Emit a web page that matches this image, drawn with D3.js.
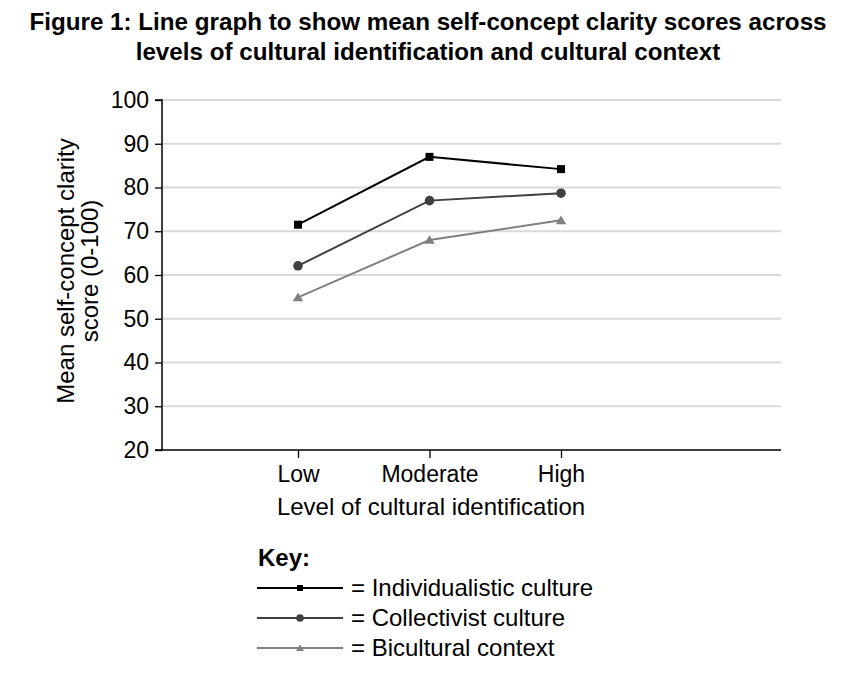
<!DOCTYPE html>
<html><head><meta charset="utf-8">
<script src="https://cdn.jsdelivr.net/npm/d3@7"></script>
<style>body{margin:0;background:#fff;} text{font-family:"Liberation Sans",Arial,sans-serif;}</style>
</head><body><svg id="c" width="854" height="674"></svg>
<script>
const categories = ["Low", "Moderate", "High"];
const individualistic = [71.5, 87.0, 84.2];
const collectivist = [62.1, 77.0, 78.7];
const bicultural = [54.9, 68.0, 72.5];
const yTicks = [20, 30, 40, 50, 60, 70, 80, 90, 100];
const seriesNames = ["Individualistic culture", "Collectivist culture", "Bicultural context"];

const series = [
  {name: seriesNames[0], values: individualistic, color: "#000000", marker: "square"},
  {name: seriesNames[1], values: collectivist, color: "#404040", marker: "circle"},
  {name: seriesNames[2], values: bicultural, color: "#808080", marker: "triangle"}
];

const FS = 23, LFS = 24;
const svg = d3.select("#c");
const m = {left: 162, top: 100, right: 781, bottom: 450};
const W = m.right - m.left, H = m.bottom - m.top;
const g = svg.append("g").attr("transform", `translate(${m.left},${m.top})`);

const x = d3.scalePoint().domain(categories).range([136, 399]);
const y = d3.scaleLinear().domain([20, 100]).range([H, 0]);

// title
const title = svg.append("text").attr("text-anchor", "middle")
  .attr("font-weight", "bold").attr("font-size", 24.2).attr("fill", "#000");
title.append("tspan").attr("x", 428).attr("y", 30).text("Figure 1: Line graph to show mean self-concept clarity scores across");
title.append("tspan").attr("x", 428).attr("y", 60).text("levels of cultural identification and cultural context");

// gridlines
g.append("g").selectAll("line").data(yTicks.filter(d => d > 20)).join("line")
  .attr("x1", 0).attr("x2", W).attr("y1", d => y(d)).attr("y2", d => y(d))
  .attr("stroke", "#d9d9d9").attr("stroke-width", 2);

// y axis
const ya = g.append("g").call(d3.axisLeft(y).tickValues(yTicks).tickSize(7).tickPadding(6));
ya.select(".domain").attr("stroke", "#000").attr("stroke-width", 1.5).attr("d", `M-7,${H}H0V0H-7`);
ya.selectAll(".tick line").attr("stroke", "#000").attr("stroke-width", 1.3);
ya.selectAll(".tick text").attr("font-size", FS).attr("fill", "#000")
  .attr("font-family", "Liberation Sans, Arial, sans-serif");

// x axis
const xa = g.append("g").attr("transform", `translate(0,${H})`)
  .call(d3.axisBottom(x).tickSize(8).tickPadding(8));
xa.select(".domain").attr("stroke", "#000").attr("stroke-width", 1.5).attr("d", `M0,0H${W}`);
xa.selectAll(".tick line").attr("stroke", "#000").attr("stroke-width", 1.3);
xa.selectAll(".tick text").attr("font-size", FS).attr("fill", "#000")
  .attr("font-family", "Liberation Sans, Arial, sans-serif");

// axis labels
svg.append("text").attr("x", 431).attr("y", 515).attr("text-anchor", "middle")
  .attr("font-size", LFS).attr("fill", "#000").text("Level of cultural identification");
const yl = svg.append("text").attr("transform", "translate(0,271) rotate(-90)")
  .attr("text-anchor", "middle").attr("font-size", LFS).attr("fill", "#000");
yl.append("tspan").attr("x", 0).attr("y", 74).text("Mean self-concept clarity");
yl.append("tspan").attr("x", 0).attr("y", 98).text("score (0-100)");

function drawMarker(sel, type, color, size) {
  if (type === "square") {
    sel.append("rect").attr("x", -size/2).attr("y", -size/2).attr("width", size).attr("height", size).attr("fill", color);
  } else if (type === "circle") {
    sel.append("circle").attr("r", size/2 + 0.8).attr("fill", color);
  } else {
    const s = size * 0.6;
    sel.append("path").attr("d", `M0,${-s}L${s*1.1},${s*0.8}L${-s*1.1},${s*0.8}Z`).attr("fill", color);
  }
}

const line = d3.line().x((d, i) => x(categories[i])).y(d => y(d));
series.forEach(s => {
  g.append("path").datum(s.values).attr("d", line).attr("fill", "none")
    .attr("stroke", s.color).attr("stroke-width", 2);
  s.values.forEach((v, i) => {
    const mk = g.append("g").attr("transform", `translate(${x(categories[i])},${y(v)})`);
    drawMarker(mk, s.marker, s.color, 8);
  });
});

// legend
svg.append("text").attr("x", 258).attr("y", 566).attr("font-weight", "bold")
  .attr("font-size", LFS).attr("fill", "#000").text("Key:");
series.forEach((s, i) => {
  const ly = 588 + i * 30;
  const lg = svg.append("g").attr("transform", `translate(0,${ly})`);
  lg.append("line").attr("x1", 257).attr("x2", 343).attr("y1", 0).attr("y2", 0)
    .attr("stroke", s.color).attr("stroke-width", 2);
  const mk = lg.append("g").attr("transform", "translate(300,0)");
  drawMarker(mk, s.marker, s.color, 6);
  lg.append("text").attr("x", 351).attr("y", 8).attr("font-size", LFS).attr("fill", "#000")
    .text("= " + s.name);
});
</script></body></html>
